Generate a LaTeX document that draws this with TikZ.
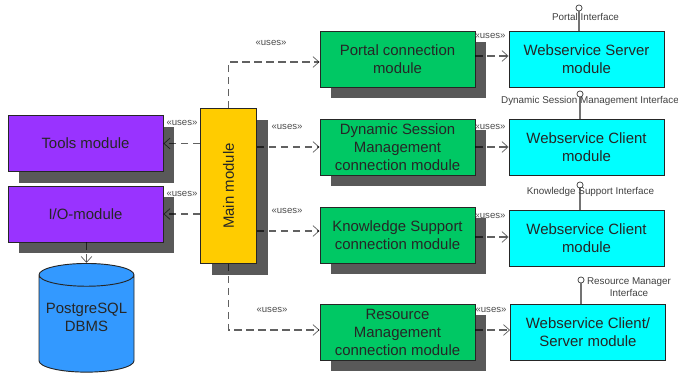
\documentclass[tikz,border=0pt]{standalone}
\usepackage{fontspec}
\setmainfont{Liberation Sans}
\usetikzlibrary{arrows.meta,shadows,shapes.geometric}
\definecolor{toolcol}{HTML}{9933FF}
\definecolor{maincol}{HTML}{FFCC00}
\definecolor{conncol}{HTML}{00C864}
\definecolor{wscol}{HTML}{00FFFF}
\definecolor{dbcol}{HTML}{3399FF}
\definecolor{shadowcol}{HTML}{595959}
\tikzset{
  module/.style={draw=black!85,line width=.7pt,inner sep=0pt,align=center,
    font=\fontsize{11.2}{13.5}\selectfont,text=black!85,
    minimum width=116.25pt,minimum height=42pt},
  shadowed/.style={drop shadow={shadow xshift=8.25pt,shadow yshift=-8.25pt,
    fill=shadowcol,opacity=1}},
  uses/.style={draw=black,draw opacity=.62,line width=.85pt,dash pattern=on 5.5pt off 3.5pt,
    -{Straight Barb[length=4.5pt,width=8pt,line width=.55pt]}},
  useslabel/.style={font=\fontsize{7.2}{8.6}\selectfont,text=black!70,inner sep=0pt},
  facelabel/.style={font=\fontsize{7.4}{9}\selectfont,text=black!75,inner sep=0pt,align=center},
  lolli/.style={circle,draw=black!70,line width=.6pt,fill=white,minimum size=4.6pt,inner sep=0pt},
  stem/.style={draw=black!55,line width=1.1pt}
}
\begin{document}
\begin{tikzpicture}[x=.75pt,y=-.75pt]
    \useasboundingbox (0,0) rectangle (678,372);
    %left side
    \node[module,shadowed,fill=toolcol] (tools) at (85.5,143.5) {Tools module};
    \node[module,shadowed,fill=toolcol] (io) at (85.5,214) {I/O-module};
    \node[module,shadowed,fill=maincol,minimum width=42pt,minimum height=116.25pt] (main) at (228.5,186) {\rotatebox{90}{Main module}};
    \node[cylinder,shape border rotate=90,aspect=.28,draw=black!85,line width=.7pt,fill=dbcol,
      minimum width=71.25pt,minimum height=81.5pt,inner sep=0pt,anchor=north,
      font=\fontsize{11.2}{13.5}\selectfont] (dbms) at (86.5,263) {\phantom{PostgreSQL}};
    \node[module,draw=none,minimum width=0pt,minimum height=0pt] (dbms text) at (86.5,317) {PostgreSQL\\DBMS};
    %connection modules
    \node[module,shadowed,fill=conncol] (portal) at (397.5,59) {Portal connection\\module};
    \node[module,shadowed,fill=conncol] (session) at (397.5,147) {Dynamic Session\\Management\\connection module};
    \node[module,shadowed,fill=conncol] (knowledge) at (397.5,235) {Knowledge Support\\connection module};
    \node[module,shadowed,fill=conncol] (resource) at (397.5,332) {Resource\\Management\\connection module};
    %webservice modules
    \node[module,fill=wscol] (server) at (586.5,59) {Webservice Server\\module};
    \node[module,fill=wscol] (client a) at (586.5,147) {Webservice Client\\module};
    \node[module,fill=wscol] (client b) at (586.5,238) {Webservice Client\\module};
    \node[module,fill=wscol] (client c) at (588,332) {Webservice Client/\\Server module};
    %interfaces
    \node[lolli] (portal face) at (579,8) {};
    \node[lolli] (session face) at (580,94) {};
    \node[lolli] (knowledge face) at (580,185) {};
    \node[lolli] (resource face) at (581,280) {};
    \draw[stem] (portal face) -- (portal face |- server.north);
    \draw[stem] (session face) -- (session face |- client a.north);
    \draw[stem] (knowledge face) -- (knowledge face |- client b.north);
    \draw[stem] (resource face) -- (resource face |- client c.north);
    \node[facelabel] (portal text) at (585.5,16.5) {Portal Interface};
    \node[facelabel] (session text) at (590,101) {Dynamic Session Management Interface};
    \node[facelabel] (knowledge text) at (590.5,192) {Knowledge Support Interface};
    \node[facelabel] (resource text) at (629,287) {Resource Manager\\Interface};
    %connectors
    \coordinate (portal in) at ([yshift=-2.25pt]portal.west);
    \coordinate (knowledge in) at ([yshift=3pt]knowledge.west);
    \coordinate (resource in) at ([yshift=1.5pt]resource.west);
    \draw[uses] (main.west |- tools) -- (tools);
    \draw[uses] (main.west |- io) -- (io);
    \draw[uses] (io.south -| dbms.north) -- (dbms.north);
    \draw[uses] (main.north) |- (portal in);
    \draw[uses] (main.east |- session) -- (session);
    \draw[uses] (main.east |- knowledge in) -- (knowledge in);
    \draw[uses] (main.south) |- (resource in);
    \coordinate (server in) at ([yshift=2.25pt]server.west);
    \coordinate (client b in) at ([yshift=.75pt]client b.west);
    \coordinate (client c in) at ([yshift=1.5pt]client c.west);
    \draw[uses] (portal.east |- server in) -- (server in);
    \draw[uses] (session) -- (client a);
    \draw[uses] (knowledge.east |- client b in) -- (client b in);
    \draw[uses] (resource.east |- client c in) -- (client c in);
    %uses labels
    \foreach \name/\px/\py in {u1/182/123,u2/182/193.5,u3/271/43,u4/287/127,u5/287/211,u6/272/310,
        u7/490/36,u8/490/127,u9/490/216,u10/491/310}
      \node[useslabel] (\name) at (\px,\py) {«uses»};
\end{tikzpicture}
\end{document}
